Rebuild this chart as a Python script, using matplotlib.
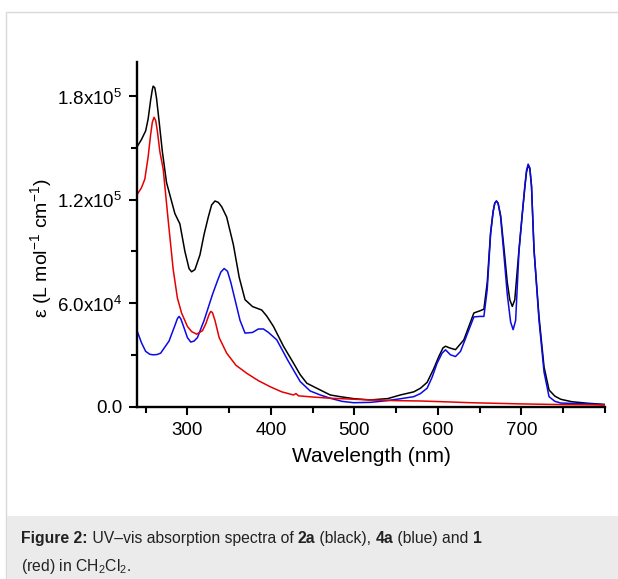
import numpy as np
import matplotlib
matplotlib.use('Agg')
import matplotlib.pyplot as plt
from matplotlib.patches import Rectangle
from matplotlib.ticker import MultipleLocator

plt.rcParams['font.family'] = ['Liberation Sans', 'DejaVu Sans']
plt.rcParams['mathtext.fontset'] = 'custom'
plt.rcParams['mathtext.rm'] = 'Liberation Sans'
plt.rcParams['mathtext.bf'] = 'Liberation Sans:bold'

# 2a (black)
wl_black = [240, 245, 250, 253, 256, 258, 259, 261, 263, 266, 270, 275, 285, 291, 297, 302, 305, 309, 315,
            320, 325, 329, 333, 337, 341, 347, 355, 362, 369, 378, 389, 395, 403, 415, 427, 435, 443,
            459, 471, 483, 500, 519, 540, 555, 571, 579, 587, 595, 601, 606, 609, 614, 621, 631, 643,
            650, 655, 659, 663, 666, 668, 670, 672, 675, 679, 683, 686, 689, 692, 697, 701, 704, 706,
            708, 710, 712, 715, 721, 727, 733, 740, 747, 760, 779, 800]
eps_black = [151000, 155000, 160000, 167000, 178000, 184000, 186000, 185000, 179000, 166000, 148000, 130000, 112000, 106000, 90000, 80000, 78200, 79500, 88000,
             100000, 110000, 117000, 119300, 118500, 116000, 110000, 94000, 75000, 62000, 58000, 56000, 52500, 46500, 35000, 25200, 18500, 13500,
             9600, 6700, 5700, 4500, 3800, 4600, 6700, 8500, 10600, 14000, 22000, 29000, 34000, 35000, 34000, 33000, 38700, 54300,
             55500, 56500, 72000, 101000, 113000, 118000, 119300, 118000, 111000, 92000, 72000, 62000, 58100, 62000, 91000, 112000, 127000, 136000,
             140100, 138000, 128000, 91000, 52000, 23000, 9600, 6000, 4200, 2800, 1900, 1200]

# 4a (blue)
wl_blue = [240, 245, 250, 255, 259, 264, 268, 278, 285, 288, 290, 292, 295, 300, 304, 308, 312, 320, 330,
           336, 340, 344, 348, 352, 357, 363, 369, 378, 385, 391, 397, 407, 420, 435, 447, 459, 471,
           485, 499, 519, 539, 555, 571, 579, 587, 593, 599, 605, 609, 615, 621, 627, 635, 643, 650,
           655, 659, 663, 666, 668, 670, 672, 675, 679, 683, 687, 690, 693, 697, 701, 704, 706, 708,
           710, 712, 715, 721, 727, 733, 740, 747, 779, 800]
eps_blue = [43600, 37000, 32000, 30300, 30000, 30200, 31000, 38000, 47000, 51000, 52300, 51000, 47000, 40000, 37400, 38000, 40000, 50000, 65000,
            73000, 78000, 80100, 78500, 72000, 62000, 50000, 42600, 43000, 45000, 45000, 43000, 38700, 27000, 14500, 9000, 6700, 4800,
            3000, 2200, 2400, 3400, 4500, 5700, 7500, 10600, 17000, 25200, 31000, 32900, 30000, 29000, 32000, 42000, 52000, 52300,
            52300, 68000, 100000, 113000, 118000, 119300, 118000, 110000, 88000, 65000, 49000, 44600, 50000, 90000, 112000, 128000, 137000, 140700,
            138500, 128000, 91000, 50000, 20000, 5700, 3000, 2000, 1500, 1000]

# 1 (red)
wl_red = [240, 245, 249, 253, 256, 258, 260, 262, 264, 267, 271, 277, 283, 288, 293, 300, 305, 311, 318,
          322, 326, 328, 330, 333, 338, 347, 358, 371, 385, 399, 413, 427, 430, 433, 450, 471, 500,
          519, 550, 579, 610, 639, 700, 750, 800]
eps_red = [123200, 127000, 132000, 145000, 158000, 165000, 167900, 166000, 160000, 148000, 137800, 108000, 79500, 63000, 54300, 46500, 43500, 42000, 44000,
           48000, 53500, 55200, 54500, 50000, 40000, 31000, 24000, 19300, 15000, 11500, 8500, 6700, 7500, 6200, 5500, 4800, 4200,
           3800, 3400, 3200, 2700, 2200, 1500, 1100, 900]

xticks = [300, 400, 500, 600, 700]
yticks = [0, 60000, 120000, 180000]
ytick_labels = ['0.0', r'6.0x10$^4$', r'1.2x10$^5$', r'1.8x10$^5$']

caption_line1 = [('Figure 2:', 'bold'), (' UV–vis absorption spectra of ', 'normal'), ('2a', 'bold'),
                 (' (black), ', 'normal'), ('4a', 'bold'), (' (blue) and ', 'normal'), ('1', 'bold')]
caption_line2 = [(r'(red) in CH$_2$Cl$_2$.', 'normal')]

W, H = 618, 579
fig = plt.figure(figsize=(W / 100, H / 100), dpi=100)

# card border and caption band
fig.patches.append(Rectangle((6 / W, -0.01), 1.0, (H - 12) / H + 0.01, transform=fig.transFigure,
                             facecolor='white', edgecolor='#d9d9d9', linewidth=1.0, zorder=0))
fig.patches.append(Rectangle((6.5 / W, 0), 1.0, 63 / H, transform=fig.transFigure,
                             facecolor='#ebebeb', edgecolor='none', zorder=1))

ax = fig.add_axes([137.3 / W, (H - 406.5) / H, (605 - 137.3) / W, (406.5 - 62) / H])
ax.set_zorder(3)
ax.patch.set_alpha(0)

ax.plot(wl_black, eps_black, color='black', lw=1.1)
ax.plot(wl_blue, eps_blue, color='#0a0ae6', lw=1.1)
ax.plot(wl_red, eps_red, color='#e60000', lw=1.1)

ax.set_xlim(240, 800)
ax.set_ylim(0, 200000)
ax.set_xticks(xticks)
ax.xaxis.set_minor_locator(MultipleLocator(50))
ax.set_yticks(yticks)
ax.set_yticklabels(ytick_labels)
ax.yaxis.set_minor_locator(MultipleLocator(30000))

for s in ['top', 'right']:
    ax.spines[s].set_visible(False)
for s in ['left', 'bottom']:
    ax.spines[s].set_linewidth(1.7)
ax.tick_params(which='both', direction='out', width=1.5, labelsize=13.5, pad=5)
ax.tick_params(which='major', length=6)
ax.tick_params(which='minor', length=4)

ax.set_xlabel('Wavelength (nm)', fontsize=15, labelpad=6)
fig.text(41.7 / W, 1 - 248 / H, r'$\mathregular{\varepsilon}$ (L mol$^{-1}$ cm$^{-1}$)',
         rotation=90, ha='center', va='center', fontsize=14, zorder=4)

# caption, drawn run by run so bold and normal parts can mix
renderer = fig.canvas.get_renderer()
def draw_runs(runs, x0, y0, size=11.3):
    x = x0
    for txt, weight in runs:
        t = fig.text(x / W, 1 - y0 / H, txt, ha='left', va='baseline', fontsize=size,
                     fontweight=weight, color='#222222', zorder=4)
        bb = t.get_window_extent(renderer)
        x += bb.width
draw_runs(caption_line1, 21, 543)
draw_runs(caption_line2, 21, 571)

fig.savefig('out.png', dpi=100)
